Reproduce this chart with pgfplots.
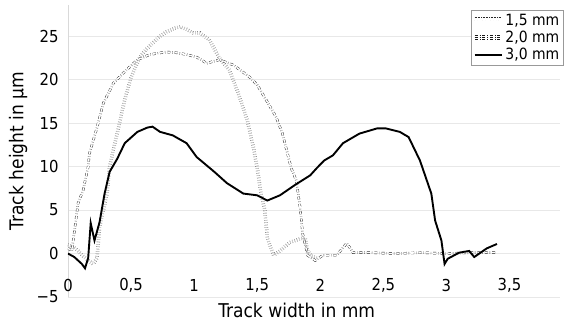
\documentclass[border=0pt]{standalone}
\usepackage{pgfplots}
\pgfplotsset{compat=1.18}
\usepackage{fontspec}
\setmainfont{DejaVu Sans Condensed}
\begin{document}
\begin{tikzpicture}
\begin{axis}[
  name=ax,
  scale only axis,
  width=492bp, height=292bp,
  xmin=0, xmax=3.9, ymin=-5, ymax=28.6,
  axis x line*=bottom, axis y line*=left,
  x axis line style={draw=none},
  y axis line style={draw=gray!30},
  xtick={0,0.5,1,1.5,2,2.5,3,3.5},
  xticklabels={0,{0,5},1,{1,5},2,{2,5},3,{3,5}},
  ytick={-5,0,5,10,15,20,25},
  yticklabels={−5,0,5,10,15,20,25},
  major tick length=0pt,
  ymajorgrids, grid style={gray!18, line width=0.6pt},
  tick label style={font=\fontsize{16.5bp}{18bp}\selectfont},
  xticklabel style={anchor=center, yshift=12bp},
  yticklabel style={anchor=east, xshift=-6bp},
  xlabel={Track width in mm},
  ylabel={Track height in µm},
  label style={font=\fontsize{19bp}{21bp}\selectfont},
  xlabel style={at={(axis description cs:0.465,-0.045)}, anchor=center},
  ylabel style={at={(axis description cs:-0.1016,0.5)}, anchor=center},
  legend style={at={(1.006,0.983)}, anchor=north east, draw=gray!80,
    font=\fontsize{15.5bp}{16bp}\selectfont, inner sep=1.5bp,
    nodes={inner ysep=2.2bp},
    legend cell align=left},
]
\addplot[black!85, dotted, line width=0.4pt, double=white, double distance=2.6pt,
  legend image code/.code={
    \draw[black!85, line width=0.6pt, dash pattern=on 0.6pt off 1pt] (0cm,1.3pt) -- (0.95cm,1.3pt);
    \draw[black!85, line width=0.6pt, dash pattern=on 0.6pt off 1pt] (0cm,-1.3pt) -- (0.95cm,-1.3pt);}] coordinates {
(0,1.0)(0.04,0.8)(0.08,0.3)(0.12,-0.3)(0.16,-0.8)(0.2,-1.2)(0.23,-0.5)(0.25,3)(0.28,5)
(0.31,6.9)(0.33,10)(0.36,12)(0.39,13.8)(0.42,15.8)(0.45,17.7)(0.5,20.3)(0.57,22.6)
(0.62,23.5)(0.67,24.2)(0.72,24.9)(0.78,25.5)(0.84,25.9)(0.89,26.1)(0.94,25.8)(0.99,25.4)
(1.045,25.4)(1.12,24.6)(1.2,22.5)(1.28,21.1)(1.36,18)(1.42,15.4)(1.47,12.2)(1.5,9.8)
(1.53,6.9)(1.56,5)(1.58,1.8)(1.63,-0.2)(1.68,0.3)(1.76,1.3)(1.84,1.7)(1.88,1.8)(1.9,0.3)
(1.93,-0.3)(1.97,-0.5)
};
\addlegendentry{1,5 mm}
\addplot[black!90, dash dot, line width=0.4pt, double=white, double distance=1.6pt,
  legend image code/.code={
    \draw[black!90, line width=0.6pt, dash dot] (0cm,1pt) -- (0.95cm,1pt);
    \draw[black!90, line width=0.6pt, dash dot] (0cm,-1pt) -- (0.95cm,-1pt);}] coordinates {
(0,0.6)(0.03,0.3)(0.055,3)(0.08,5.8)(0.12,7.3)(0.16,10)(0.17,11.5)(0.23,14.5)(0.28,17.3)
(0.36,19.6)(0.44,20.8)(0.55,22.3)(0.65,22.9)(0.78,23.2)(0.86,23.1)(0.94,22.9)(1.02,22.6)
(1.1,21.9)(1.2,22.3)(1.31,21.7)(1.44,20.3)(1.5,19.4)(1.57,17.7)(1.65,15.7)(1.7,13.8)
(1.74,11.5)(1.77,9.8)(1.81,8.4)(1.84,5.3)(1.86,2.3)(1.9,-0.2)(1.96,-0.8)(2.02,-0.2)
(2.13,-0.2)(2.21,1.2)(2.26,0.1)(2.4,0.1)(2.6,0.0)(2.8,0.1)(3.0,0.0)(3.2,0.1)(3.4,0.1)
};
\addlegendentry{2,0 mm}
\addplot[black, line width=1.9pt,
  legend image code/.code={\draw[black, line width=1.9pt] (0cm,0cm) -- (0.95cm,0cm);}] coordinates {
(0,0)(0.05,-0.4)(0.11,-1.2)(0.135,-1.7)(0.16,-0.5)(0.18,3.5)(0.21,1.5)(0.25,3.6)
(0.29,6.9)(0.33,9.4)(0.39,10.9)(0.45,12.7)(0.55,14)(0.63,14.5)(0.67,14.6)(0.73,14)
(0.78,13.8)(0.83,13.6)(0.94,12.7)(1.02,11.1)(1.045,10.8)(1.16,9.4)(1.26,8.1)(1.39,6.9)
(1.5,6.7)(1.58,6.1)(1.68,6.7)(1.8,7.9)(1.92,9.0)(1.97,9.8)(2.03,10.7)(2.1,11.3)
(2.18,12.7)(2.31,13.8)(2.45,14.4)(2.52,14.4)(2.63,14.0)(2.7,13.4)(2.79,10.7)(2.88,6.9)
(2.91,3.8)(2.96,1.5)(2.985,-1.2)(3.01,-0.6)(3.1,0.1)(3.18,0.3)(3.22,-0.4)(3.32,0.6)(3.4,1.1)
};
\addlegendentry{3,0 mm}
\end{axis}
\path[use as bounding box] ([xshift=-68bp,yshift=-30bp]ax.south west) rectangle ([xshift=5bp,yshift=5bp]ax.north east);
\end{tikzpicture}
\end{document}
